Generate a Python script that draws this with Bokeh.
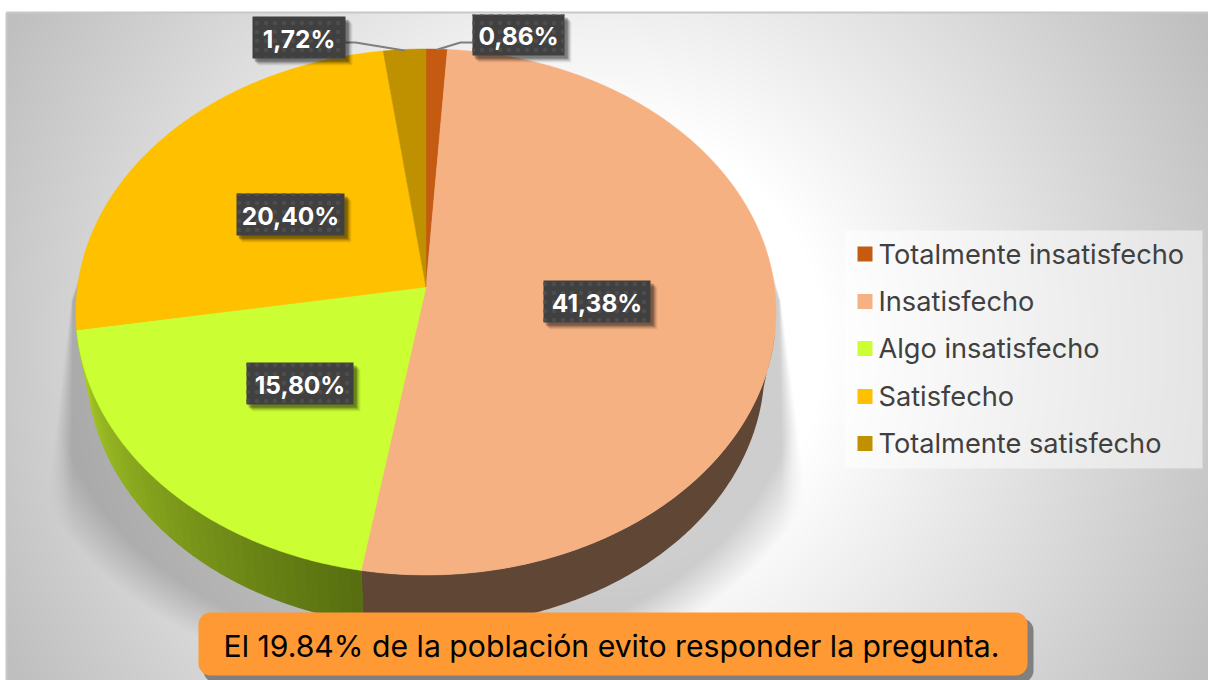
import numpy as np
from bokeh.plotting import figure
from bokeh.models import Range1d
from bokeh.embed import file_html
from bokeh.resources import INLINE
from bokeh.core.properties import value

# ---- chart data ----
categories = ["Totalmente insatisfecho", "Insatisfecho", "Algo insatisfecho", "Satisfecho", "Totalmente satisfecho"]
values = [0.86, 41.38, 15.80, 20.40, 1.72]
colors = ["#c55a11", "#f6b183", "#ccff33", "#ffc000", "#bf9000"]
note = "El 19.84% de la población evito responder la pregunta."

# ---- layout (page pixels) ----
FONT = "Inter"
W, H = 1208, 680
CX, AY, A, B, K = 425.5, 286.5, 348.5, 260.6, 0.095
label_boxes = [(472, 14, 564, 55), (543, 280, 650, 322), (246, 362, 353, 404), (236, 193, 344, 235), (252, 16, 345, 58)]

p = figure(width=W, height=H, output_backend="svg", toolbar_location=None,
           x_range=Range1d(0, W), y_range=Range1d(H, 0),
           x_axis_type=None, y_axis_type=None, min_border=0,
           outline_line_color=None, background_fill_color="white", border_fill_color="white")
p.grid.visible = False

# ---- background: radial grey gradient + soft pie shadow ----
X0, Y0 = 6, 12
xx, yy = np.meshgrid(np.arange(X0, W) + .5, np.arange(Y0, H) + .5)
rad = np.hypot(xx - 607, yy - 346)
g = 255 - 64 * np.clip((rad - 220) / 460, 0, 1)
r_el = np.hypot((xx - CX) / 339, (yy - 367.5) / 259)
dist = (r_el - 1) * 300
sh = np.clip((72 - dist) / 43, 0, 1)
xl = np.interp(yy, [227, 260, 300, 470, 680], [110, 84, 71, 50, 26])
xr = np.interp(yy, [227, 260, 300, 450, 680], [745, 768, 780, 800, 830])
soft = 1.5 + np.clip(yy - 300, 0, 300) * 0.12
sh = sh * np.clip((xx - xl) / soft, 0, 1) * np.clip((xr - xx) / soft, 0, 1) * np.clip((yy - 227) / 3, 0, 1)
g = g * (1 - 0.19 * sh)
g8 = g.astype(np.uint32)
img = (255 << 24) | (g8 << 16) | (g8 << 8) | g8
img = img.astype(np.uint32)
p.image_rgba(image=[img], x=X0, y=Y0, dw=W - X0, dh=H - Y0)
p.line([X0, W], [Y0, Y0], line_color="#c8c8c8", line_width=2)
p.line([X0, X0], [Y0, H], line_color="#c8c8c8", line_width=2)

# ---- 3-D pie ----
def top(th):
    u, v = np.sin(th), np.cos(th)
    w = 1 + K * v
    return CX + A * u / w, AY - B * v / w

def bottom(th):
    x, y = top(th)
    return CX + (x - CX) * 339 / 350.5, 367.5 + (y - 312) * 259 / 263

def wall(t0, t1):
    th = np.linspace(t0, t1, max(3, int((t1 - t0) * 90)))
    xt, yt = top(th)
    xb, yb = bottom(th[::-1])
    return list(np.r_[xt, xb]), list(np.r_[yt, yb])

fr = np.array(values) / sum(values) * 2 * np.pi
ends = np.cumsum(fr)
starts = ends - fr

# side walls
wx, wy = wall(max(starts[1], np.radians(100)), ends[1])
p.patch(wx, wy, fill_color="#604635", line_color=None)
n = 40
edges = np.linspace(starts[2], ends[2], n + 1)
c0, c1 = np.array([0x56, 0x6e, 0x10]), np.array([0xaa, 0xcc, 0x28])
xs, ys, cs = [], [], []
for i in range(n):
    a, b = wall(edges[i], edges[i + 1])
    xs.append(a); ys.append(b)
    t = (i + .5) / n
    c = c0 + (c1 - c0) * t
    cs.append("#%02x%02x%02x" % tuple(int(q) for q in c))
p.patches(xs, ys, fill_color=cs, line_color=cs, line_width=1)

# top face
xs, ys = [], []
for s, e in zip(starts, ends):
    th = np.linspace(s, e, max(3, int((e - s) * 90)))
    x, y = top(th)
    xs.append([CX] + list(x)); ys.append([AY] + list(y))
p.patches(xs, ys, fill_color=colors, line_color=colors, line_width=0.5)

# leader lines
p.line([345, 355, 404], [42, 42, 50], line_color="#7f7f7f", line_width=2)
p.line([437, 460, 472], [49, 42, 42], line_color="#7f7f7f", line_width=2)

# ---- data labels ----
for off, al in [(7, .06), (6, .08), (5, .12), (4, .16), (3, .2)]:
    p.quad(left=[b[0] + off - 1 for b in label_boxes], right=[b[2] + off for b in label_boxes],
           top=[b[1] + off for b in label_boxes], bottom=[b[3] + off for b in label_boxes],
           fill_color="black", fill_alpha=al, line_color=None)
p.quad(left=[b[0] for b in label_boxes], right=[b[2] for b in label_boxes],
       top=[b[1] for b in label_boxes], bottom=[b[3] for b in label_boxes],
       fill_color="#404040", line_color=None, hatch_pattern="dot", hatch_color="#4d4d4d", hatch_scale=9, hatch_weight=1.5)
labels = [f"{v:.2f}%".replace(".", ",") for v in values]
p.text(x=[(b[0] + b[2]) / 2 for b in label_boxes], y=[(b[1] + b[3]) / 2 + 1 for b in label_boxes], text=labels,
       text_color="white", text_font=value(FONT), text_font_style="bold", text_font_size="24.5px",
       text_align="center", text_baseline="middle")

# ---- legend ----
p.quad(left=[844], right=[1202], top=[230], bottom=[468], fill_color="white", fill_alpha=0.5, line_color=None)
ly = [253.5, 301, 348, 396, 443]
p.quad(left=[857] * 5, right=[872] * 5, top=[y - 7.5 for y in ly], bottom=[y + 7.5 for y in ly],
       fill_color=colors, line_color=None)
p.text(x=[878] * 5, y=ly, text=categories, text_color="#404040", text_font=value(FONT),
       text_font_size="27.2px", text_align="left", text_baseline="middle")

# ---- note box ----
def rrect(l, t, r, b, rd):
    a = np.linspace(0, np.pi / 2, 8)
    x = np.r_[r - rd + rd * np.sin(a), r - rd + rd * np.cos(a), l + rd - rd * np.sin(a), l + rd - rd * np.cos(a)]
    y = np.r_[t + rd - rd * np.cos(a), b - rd + rd * np.sin(a), b - rd + rd * np.cos(a), t + rd - rd * np.sin(a)]
    return list(x), list(y)

sx, sy = rrect(203, 618, 1033, 682, 12)
p.patch(sx, sy, fill_color="#808080", line_color=None)
nx, ny = rrect(198, 612, 1027, 675, 12)
p.patch(nx, ny, fill_color="#ff9933", line_color=None)
p.text(x=[223], y=[645], text=[note], text_color="black", text_font=value(FONT),
       text_font_size="30.2px", text_align="left", text_baseline="middle")

open("out.html", "w").write(file_html(p, INLINE))
